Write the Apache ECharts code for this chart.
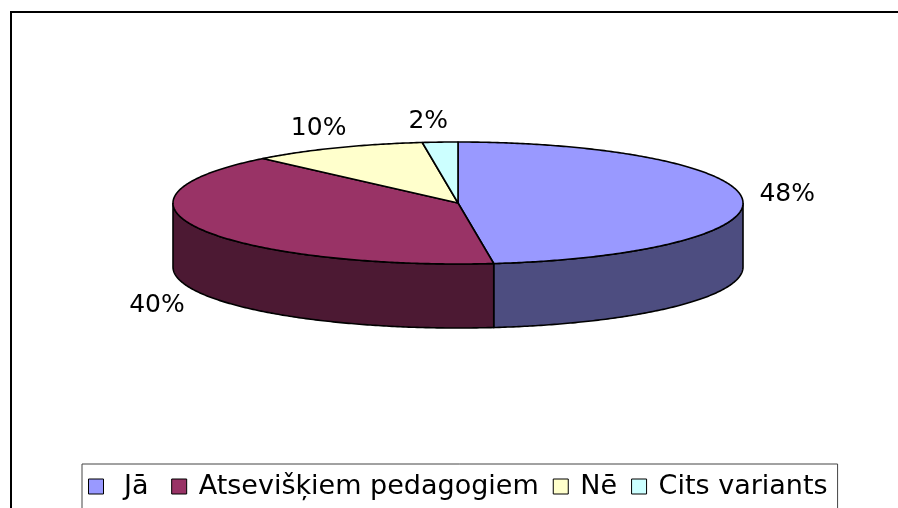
<!DOCTYPE html>
<html>
<head>
<meta charset="utf-8">
<script src="https://cdn.jsdelivr.net/npm/echarts@6/dist/echarts.min.js"></script>
<style>
  html, body { margin: 0; padding: 0; background: #fff; }
  #chart { width: 898px; height: 508px; }
</style>
</head>
<body>
<div id="chart"></div>
<script>
const sliceNames = ['Jā', 'Atsevišķiem pedagogiem', 'Nē', 'Cits variants']
const sliceValues = [48, 40, 10, 2]
const sliceLabels = ['48%', '40%', '10%', '2%']

const topColors = ['#9999FF', '#993366', '#FFFFCC', '#CCFFFF']
const sideColors = ['#4D4D80', '#4C1933', '#80806A', '#6A8080']
// small pixel nudges for the data labels (Excel places them a bit off the radial line)
const labelNudge = [[0, -4], [0, 7], [17, -7], [9, -7]]

// pie geometry (top ellipse centre, radii, thickness)
const cx = 458, cy = 203, rx = 285, ry = 61, depth = 64

const total = sliceValues.reduce((a, b) => a + b, 0)
let starts = [], ends = []
let acc = 0
sliceValues.forEach(v => {
    starts.push(acc / total * Math.PI * 2)
    acc += v
    ends.push(acc / total * Math.PI * 2)
})

// angle measured clockwise from 12 o'clock
const pt = (a, dy) => [cx + rx * Math.sin(a), cy - ry * Math.cos(a) + dy]
const arc = (from, to, dy) => {
    let n = Math.max(2, Math.ceil(Math.abs(to - from) / 0.01) + 1)
    let pts = []
    for (let k = 0; k < n; k++) {
        pts.push(pt(from + (to - from) * k / (n - 1), dy))
    }
    return pts
}

const renderSlice = i => (params, api) => {
    let a0 = starts[i], a1 = ends[i]
    let children = []
    // visible front wall
    let s0 = Math.max(a0, Math.PI / 2), s1 = Math.min(a1, Math.PI * 1.5)
    if (s1 > s0) {
        children.push({
            type: 'polygon',
            z2: 1,
            shape: { points: arc(s0, s1, 0).concat(arc(s1, s0, depth)) },
            style: { fill: sideColors[i], stroke: '#000', lineWidth: 1.6 }
        })
    }
    // top face
    children.push({
        type: 'polygon',
        z2: 5,
        shape: { points: [[cx, cy]].concat(arc(a0, a1, 0)) },
        style: { fill: topColors[i], stroke: '#000', lineWidth: 1.6, lineJoin: 'round' }
    })
    // label
    let m = (a0 + a1) / 2
    let anchor = pt(m, Math.cos(m) < 0 ? depth : 0)
    children.push({
        type: 'text',
        z2: 10,
        style: {
            x: anchor[0] + Math.sin(m) * 17 + labelNudge[i][0],
            y: anchor[1] - Math.cos(m) * 14 + labelNudge[i][1],
            text: sliceLabels[i],
            fill: '#000',
            font: '25px "DejaVu Sans"',
            align: Math.sin(m) >= 0 ? 'left' : 'right',
            verticalAlign: 'middle'
        }
    })
    return { type: 'group', children: children }
}

const chart = echarts.init(document.getElementById('chart'), null, { renderer: 'canvas' })

let option = {
    backgroundColor: '#fff',
    animation: false,
    graphic: [
        {
            type: 'rect',
            shape: { x: 11, y: 12, width: 1000, height: 1000 },
            style: { fill: 'none', stroke: '#000', lineWidth: 2 },
            silent: true
        }
    ],
    legend: {
        left: 82,
        top: 464,
        orient: 'horizontal',
        padding: [9, 10, 40, 6],
        borderColor: '#444',
        borderWidth: 1,
        itemWidth: 15,
        itemHeight: 15,
        itemGap: 14,
        icon: 'rect',
        itemStyle: { borderColor: '#000', borderWidth: 1 },
        formatter: name => (name === 'Jā' ? ' Jā ' : name),
        textStyle: {
            fontFamily: 'DejaVu Sans',
            fontSize: 27,
            color: '#000',
            padding: [0, 0, 0, 7]
        },
        data: sliceNames
    },
    series: sliceNames.map((name, i) => ({
        name: name,
        type: 'custom',
        coordinateSystem: 'none',
        itemStyle: { color: topColors[i] },
        renderItem: renderSlice(i),
        data: [sliceValues[i]]
    }))
}

chart.setOption(option)
</script>
</body>
</html>
